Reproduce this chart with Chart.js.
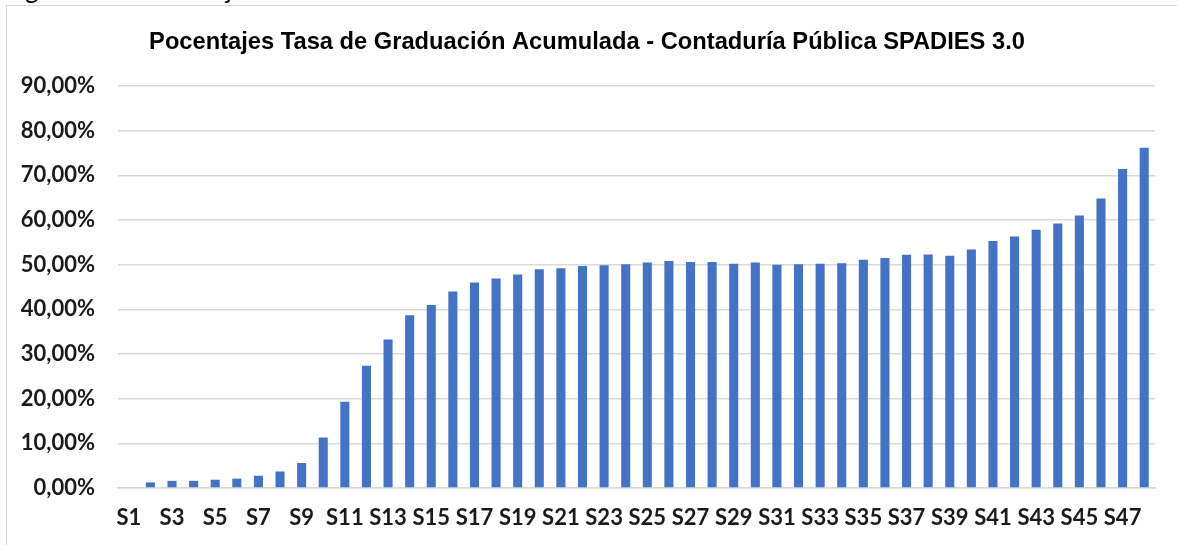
<!DOCTYPE html>
<html>
<head>
<meta charset="utf-8">
<script src="https://cdn.jsdelivr.net/npm/chart.js@4/dist/chart.umd.min.js"></script>
<style>
  html, body { margin: 0; padding: 0; background: #fff; overflow: hidden; }
  body { width: 1177px; height: 545px; position: relative; }
  #caption {
    position: absolute; left: 4px; top: -25px;
    font-family: Lato, sans-serif; font-size: 26px; line-height: 26px;
    color: #000; white-space: nowrap;
  }
  #frame {
    position: absolute; left: 6px; top: 5px; width: 1300px; height: 700px;
    border: 1.5px solid #d9d9d9; box-sizing: border-box;
  }
  #wrap { position: absolute; left: 0; top: 0; width: 1177px; height: 545px; }
</style>
</head>
<body>
<div id="caption">Figura 12. Porcentajes</div>
<div id="frame"></div>
<div id="wrap"><canvas id="gradChart"></canvas></div>
<script>
/* ── datos: tasa de graduación acumulada por semestre (%) ── */
const SEMESTRES = Array.from({ length: 48 }, (_, i) => 'S' + (i + 1));

const TASA = [
  0.00, 1.25, 1.60, 1.60, 1.85, 2.10, 2.75, 3.70, 5.60, 11.30,
  19.30, 27.40, 33.25, 38.70, 41.00, 44.00, 46.00, 46.90, 47.80, 49.00,
  49.20, 49.70, 49.90, 50.10, 50.50, 50.85, 50.60, 50.60, 50.20, 50.50,
  50.00, 50.10, 50.20, 50.30, 51.10, 51.50, 52.20, 52.30, 52.00, 53.40,
  55.30, 56.30, 57.80, 59.20, 61.00, 64.80, 71.40, 76.20,
];

const Y_MAX  = 90;
const Y_STEP = 10;

const TITULO = 'Pocentajes Tasa de Graduación Acumulada - Contaduría Pública SPADIES 3.0';

const AZUL  = '#4472C4';
const GRIS  = '#d9d9d9';
const TEXTO = '#1a1a1a';

const fmtPct = v => v.toFixed(2).replace('.', ',') + '%';

new Chart(document.getElementById('gradChart'), {
  type: 'bar',
  data: {
    labels: SEMESTRES,
    datasets: [{
      label: 'Tasa de graduación acumulada',
      data: TASA,
      backgroundColor: AZUL,
      borderWidth: 0,
      categoryPercentage: 1.0,
      barPercentage: 0.42,
    }],
  },
  options: {
    responsive: true, maintainAspectRatio: false,
    animation: false,
    layout: { padding: { top: 28, right: 22, bottom: 0, left: 19 } },
    plugins: {
      legend: { display: false },
      tooltip: { enabled: false },
      title: {
        display: true,
        text: TITULO,
        color: '#000',
        font: { family: "'Liberation Sans', Arial, sans-serif", size: 23.7, weight: 'bold' },
        padding: { top: 0, bottom: 29.6 },
      },
    },
    scales: {
      x: {
        afterFit: s => { s.height = 57; },
        grid: { display: false, drawTicks: false },
        border: { color: GRIS, width: 1.5 },
        ticks: {
          autoSkip: false, maxRotation: 0, minRotation: 0,
          padding: 17,
          color: TEXTO,
          font: { family: 'Lato, sans-serif', size: 22, weight: 'bold' },
          callback: (v, i) => (i % 2 === 0 ? SEMESTRES[i] : ''),
        },
      },
      y: {
        min: 0, max: Y_MAX,
        afterFit: s => { s.width = 99; },
        grid: { color: GRIS, lineWidth: 1.5, drawTicks: false },
        border: { display: false },
        ticks: {
          stepSize: Y_STEP,
          padding: 23,
          color: TEXTO,
          font: { family: 'Lato, sans-serif', size: 22, weight: 'bold' },
          callback: v => fmtPct(v),
        },
      },
    },
  },
});
</script>
</body>
</html>
